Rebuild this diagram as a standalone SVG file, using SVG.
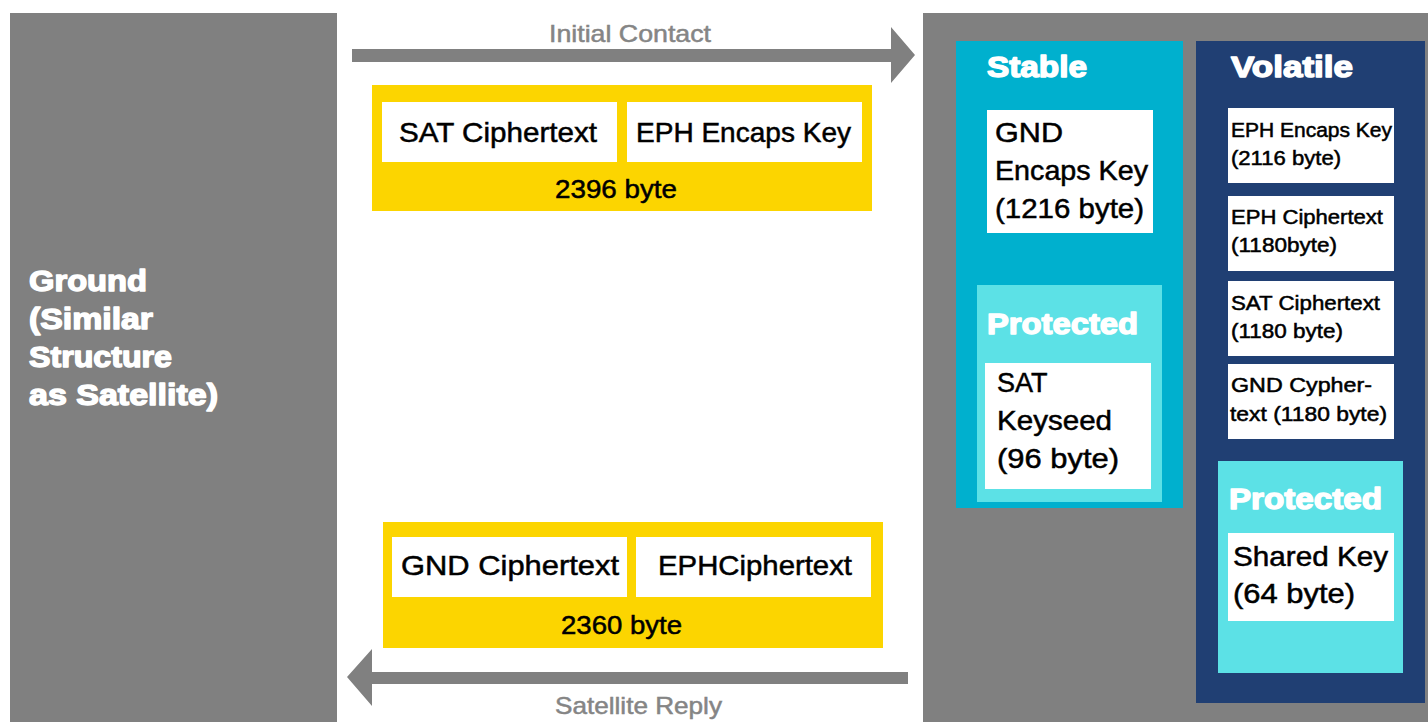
<svg xmlns="http://www.w3.org/2000/svg" width="1428" height="722" viewBox="0 0 1428 722">
<style>
.panel{fill:#808080}
.yel{fill:#FCD500}
.wb{fill:#FFFFFF}
.stable{fill:#00B0CE}
.prot{fill:#5CE1E6}
.vol{fill:#203F73}
.arrow{fill:#808080}
.t{font-family:"Liberation Sans",Arial,sans-serif;fill:#000;stroke:#000;stroke-width:0.5}
.h{font-family:"Liberation Sans",Arial,sans-serif;font-weight:bold;fill:#FFFFFF;stroke:#FFFFFF;stroke-width:1.4;stroke-linejoin:round}
.lbl{font-family:"Liberation Sans",Arial,sans-serif;fill:#858585;stroke:#858585;stroke-width:0.5}
</style>
<rect width="1428" height="722" fill="#FFFFFF"/>

<g id="ground">
<rect class="panel" x="10" y="13" width="327" height="709"/>
<text class="h" font-size="29" lengthAdjust="spacingAndGlyphs">
<tspan x="29" y="291" textLength="118" lengthAdjust="spacingAndGlyphs">Ground</tspan>
<tspan x="29" y="329" textLength="124" lengthAdjust="spacingAndGlyphs">(Similar</tspan>
<tspan x="29" y="367" textLength="143" lengthAdjust="spacingAndGlyphs">Structure</tspan>
<tspan x="29" y="405" textLength="189" lengthAdjust="spacingAndGlyphs">as Satellite)</tspan>
</text>
</g>

<g id="satellite">
<rect class="panel" x="923" y="13" width="505" height="709"/>
</g>

<g id="stable">
<rect class="stable" x="956" y="41" width="227" height="467"/>
<text class="h" x="987" y="77" font-size="29" textLength="100" lengthAdjust="spacingAndGlyphs">Stable</text>
</g>

<g id="gnd-encaps-key">
<rect class="wb" x="987" y="110" width="166" height="123"/>
<text class="t" font-size="28" lengthAdjust="spacingAndGlyphs">
<tspan x="995" y="142" textLength="68" lengthAdjust="spacingAndGlyphs">GND</tspan>
<tspan x="995" y="180" textLength="153" lengthAdjust="spacingAndGlyphs">Encaps Key</tspan>
<tspan x="995" y="218" textLength="149" lengthAdjust="spacingAndGlyphs">(1216 byte)</tspan>
</text>
</g>

<g id="stable-protected">
<rect class="prot" x="977" y="285" width="185" height="217"/>
<text class="h" x="987" y="334" font-size="29" textLength="151" lengthAdjust="spacingAndGlyphs">Protected</text>
</g>

<g id="sat-keyseed">
<rect class="wb" x="985" y="363" width="166" height="126"/>
<text class="t" font-size="28" lengthAdjust="spacingAndGlyphs">
<tspan x="997" y="392" textLength="50" lengthAdjust="spacingAndGlyphs">SAT</tspan>
<tspan x="997" y="430" textLength="115" lengthAdjust="spacingAndGlyphs">Keyseed</tspan>
<tspan x="997" y="468" textLength="122" lengthAdjust="spacingAndGlyphs">(96 byte)</tspan>
</text>
</g>

<g id="volatile">
<rect class="vol" x="1196" y="41" width="229" height="662"/>
<text class="h" x="1231" y="77" font-size="29" textLength="122" lengthAdjust="spacingAndGlyphs">Volatile</text>
</g>

<g id="vol-eph-encaps-key">
<rect class="wb" x="1228" y="108" width="166" height="75"/>
<text class="t" font-size="20" lengthAdjust="spacingAndGlyphs">
<tspan x="1231" y="137" textLength="161" lengthAdjust="spacingAndGlyphs">EPH Encaps Key</tspan>
<tspan x="1231" y="165" textLength="110" lengthAdjust="spacingAndGlyphs">(2116 byte)</tspan>
</text>
</g>

<g id="vol-eph-ciphertext">
<rect class="wb" x="1228" y="196" width="166" height="75"/>
<text class="t" font-size="20" lengthAdjust="spacingAndGlyphs">
<tspan x="1231" y="224" textLength="152" lengthAdjust="spacingAndGlyphs">EPH Ciphertext</tspan>
<tspan x="1231" y="252" textLength="106" lengthAdjust="spacingAndGlyphs">(1180byte)</tspan>
</text>
</g>

<g id="vol-sat-ciphertext">
<rect class="wb" x="1228" y="281" width="166" height="75"/>
<text class="t" font-size="20" lengthAdjust="spacingAndGlyphs">
<tspan x="1231" y="310" textLength="149" lengthAdjust="spacingAndGlyphs">SAT Ciphertext</tspan>
<tspan x="1231" y="338" textLength="112" lengthAdjust="spacingAndGlyphs">(1180 byte)</tspan>
</text>
</g>

<g id="vol-gnd-cyphertext">
<rect class="wb" x="1228" y="364" width="166" height="75"/>
<text class="t" font-size="20" lengthAdjust="spacingAndGlyphs">
<tspan x="1231" y="392" textLength="141" lengthAdjust="spacingAndGlyphs">GND Cypher-</tspan>
<tspan x="1230" y="421" textLength="157" lengthAdjust="spacingAndGlyphs">text (1180 byte)</tspan>
</text>
</g>

<g id="volatile-protected">
<rect class="prot" x="1218" y="461" width="185" height="212"/>
<text class="h" x="1229" y="509" font-size="29" textLength="153" lengthAdjust="spacingAndGlyphs">Protected</text>
</g>

<g id="shared-key">
<rect class="wb" x="1228" y="533" width="166" height="88"/>
<text class="t" font-size="28" lengthAdjust="spacingAndGlyphs">
<tspan x="1233" y="566" textLength="155" lengthAdjust="spacingAndGlyphs">Shared Key</tspan>
<tspan x="1233" y="603" textLength="122" lengthAdjust="spacingAndGlyphs">(64 byte)</tspan>
</text>
</g>

<g id="initial-message">
<rect class="yel" x="372" y="85" width="500" height="126"/>
<rect class="wb" x="382" y="102" width="235" height="60"/>
<rect class="wb" x="627" y="102" width="235" height="60"/>
<text class="t" x="399" y="142" font-size="28" textLength="198" lengthAdjust="spacingAndGlyphs">SAT Ciphertext</text>
<text class="t" x="636" y="142" font-size="28" textLength="215" lengthAdjust="spacingAndGlyphs">EPH Encaps Key</text>
<text class="t" x="555" y="198" font-size="25" textLength="122" lengthAdjust="spacingAndGlyphs">2396 byte</text>
</g>

<g id="reply-message">
<rect class="yel" x="383" y="522" width="500" height="126"/>
<rect class="wb" x="392" y="537" width="235" height="60"/>
<rect class="wb" x="636" y="537" width="235" height="60"/>
<text class="t" x="401" y="575" font-size="28" textLength="218" lengthAdjust="spacingAndGlyphs">GND Ciphertext</text>
<text class="t" x="658" y="575" font-size="28" textLength="194" lengthAdjust="spacingAndGlyphs">EPHCiphertext</text>
<text class="t" x="561" y="634" font-size="25" textLength="121" lengthAdjust="spacingAndGlyphs">2360 byte</text>
</g>

<g id="connectors">
<g id="initial-contact">
<polygon class="arrow" points="352,49 891,49 891,27 915,55 891,83 891,62 352,62"/>
<text class="lbl" x="549" y="42" font-size="24" textLength="162" lengthAdjust="spacingAndGlyphs">Initial Contact</text>
</g>
<g id="satellite-reply">
<polygon class="arrow" points="908,672 372,672 372,649 347,677 372,706 372,684 908,684"/>
<text class="lbl" x="555" y="714" font-size="24" textLength="167" lengthAdjust="spacingAndGlyphs">Satellite Reply</text>
</g>
</g>
</svg>
